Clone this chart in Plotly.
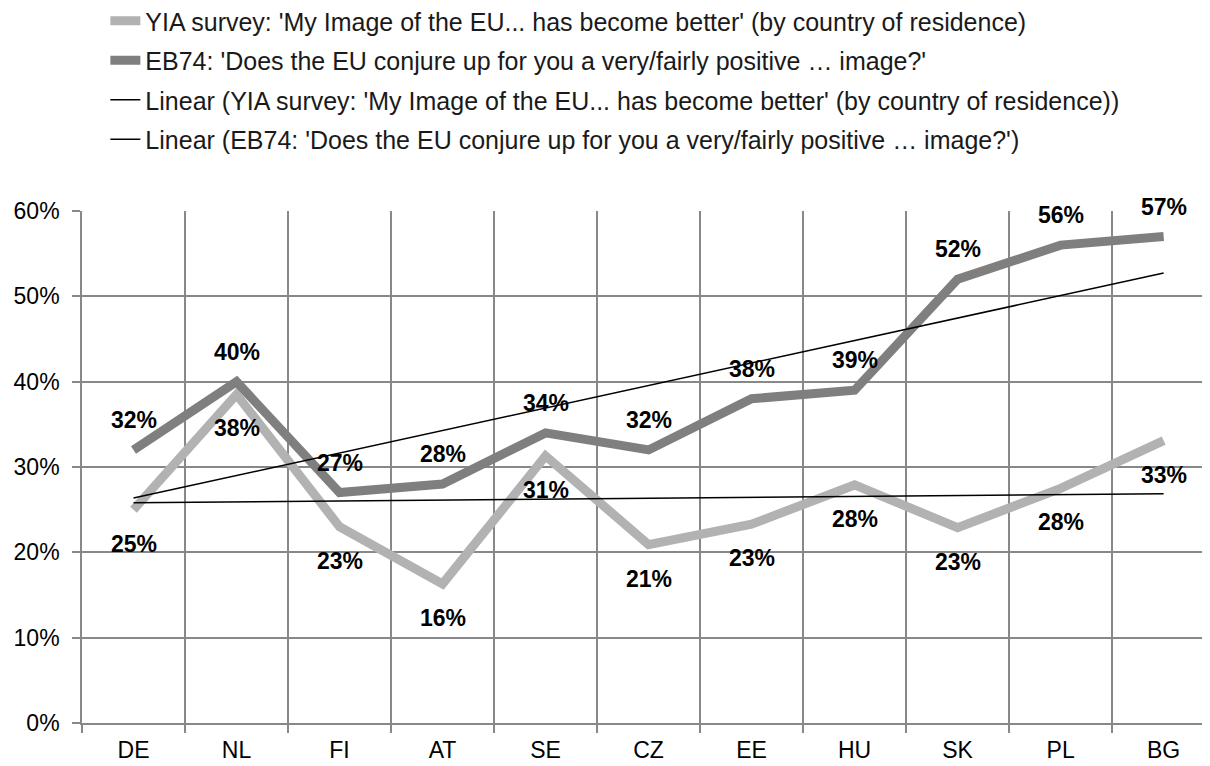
import numpy as np
import plotly.graph_objects as go

countries = ['DE', 'NL', 'FI', 'AT', 'SE', 'CZ', 'EE', 'HU', 'SK', 'PL', 'BG']
yia = [0.25, 0.385, 0.23, 0.163, 0.313, 0.209, 0.233, 0.279, 0.229, 0.275, 0.331]
eb74 = [0.32, 0.40, 0.27, 0.28, 0.34, 0.32, 0.38, 0.39, 0.52, 0.56, 0.57]

yia_name = "YIA survey: 'My Image of the EU... has become better' (by country of residence)"
eb74_name = "EB74: 'Does the EU conjure up for you a very/fairly positive \u2026 image?'"

FONT = 'Arial, Liberation Sans, sans-serif'

# linear trend lines, same as excel "Linear (...)"
idx = np.arange(len(countries))
yia_fit = np.polyval(np.polyfit(idx, yia, 1), idx)
eb74_fit = np.polyval(np.polyfit(idx, eb74, 1), idx)

fig = go.Figure()
fig.add_trace(go.Scatter(x=countries, y=yia, mode='lines', name=yia_name, legendgroup='a',
                         line=dict(color='#b2b2b2', width=9)))
fig.add_trace(go.Scatter(x=countries, y=eb74, mode='lines', name=eb74_name, legendgroup='b',
                         line=dict(color='#7f7f7f', width=9)))
fig.add_trace(go.Scatter(x=countries, y=yia_fit, mode='lines', name='Linear (' + yia_name + ')',
                         legendgroup='c', line=dict(color='black', width=1.5)))
fig.add_trace(go.Scatter(x=countries, y=eb74_fit, mode='lines', name='Linear (' + eb74_name + ')',
                         legendgroup='d', line=dict(color='black', width=1.5)))

# data labels: EB74 above, YIA below
for c, v in zip(countries, eb74):
    fig.add_annotation(x=c, y=v, text='{:.0%}'.format(v), showarrow=False, yshift=30,
                       font=dict(family=FONT, size=23, color='black', weight='bold'))
for c, v in zip(countries, yia):
    fig.add_annotation(x=c, y=v, text='{:.0%}'.format(v), showarrow=False, yshift=-34,
                       font=dict(family=FONT, size=23, color='black', weight='bold'))

# page body adds an 8px offset, so figure is 8px smaller than the window
fig.update_layout(
    width=1202, height=758,
    margin=dict(l=74, r=0, t=203, b=43, autoexpand=False),
    plot_bgcolor='white', paper_bgcolor='white',
    font=dict(family=FONT, size=23, color='black'),
    showlegend=True,
    legend=dict(xref='container', yref='paper', x=0.081, y=1.416, xanchor='left', yanchor='top',
                tracegroupgap=4, font=dict(size=25, color='#1a1a1a'), bgcolor='rgba(0,0,0,0)'),
)
fig.update_xaxes(type='category', categoryorder='array', categoryarray=countries,
                 range=[-0.5, 10.45], tickson='boundaries', ticks='outside', ticklen=8,
                 tickcolor='#888888', tickwidth=1.6, showgrid=True, gridcolor='#888888', gridwidth=1.6,
                 showline=True, linecolor='#888888', linewidth=1.6, tickfont=dict(size=23),
                 ticklabelstandoff=6)
fig.update_yaxes(range=[0, 0.6], dtick=0.1, tickformat='.0%', ticks='outside', ticklen=8,
                 tickcolor='#888888', tickwidth=1.6, showgrid=True, gridcolor='#888888', gridwidth=1.6,
                 showline=True, linecolor='#888888', linewidth=1.6, zeroline=False,
                 tickfont=dict(size=23), ticklabelstandoff=8)

fig.write_html("out.html")
